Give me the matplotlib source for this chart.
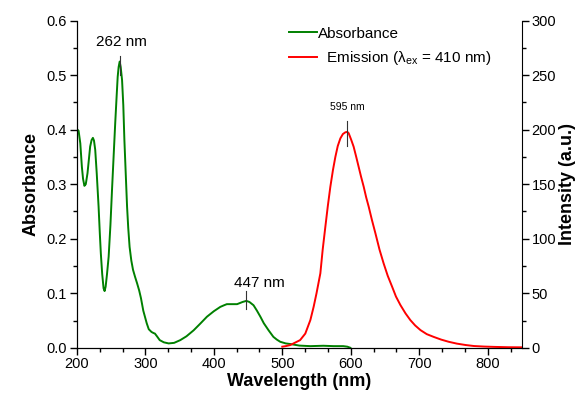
import numpy as np
import matplotlib.pyplot as plt
from matplotlib.ticker import MultipleLocator, AutoMinorLocator

plt.rcParams['font.family'] = ['Liberation Sans', 'DejaVu Sans']
plt.rcParams['mathtext.fontset'] = 'custom'
plt.rcParams['mathtext.rm'] = 'Liberation Sans'
plt.rcParams['mathtext.it'] = 'Liberation Sans'

# absorbance spectrum
abs_wl = [200, 202.5, 205, 207.3, 209, 211, 213, 215.5, 217.5, 219.4, 221.5, 223.4, 225, 226.8,
          229, 231.7, 233.5, 235, 237, 239, 240.5, 242, 244, 246.4, 249, 251.3, 254, 256,
          258, 259.6, 261, 262.5, 264, 266, 267.8, 269.4, 271.5, 273.3, 275, 277, 279.5, 282,
          285, 288, 291, 293.6, 297, 302, 305, 309, 312, 314, 317, 321, 327, 334,
          342, 351, 360, 370.5, 380, 390, 400, 409.5, 415, 419, 425, 430, 434, 438,
          442, 447.5, 452, 458, 463, 468, 473, 480, 487, 492, 497, 505, 512, 525,
          541, 560, 575, 589, 595, 599.4]
abs_val = [0.401, 0.398, 0.375, 0.332, 0.310, 0.297, 0.300, 0.320, 0.345, 0.369, 0.381, 0.385, 0.380, 0.363,
           0.320, 0.259, 0.210, 0.173, 0.135, 0.109, 0.104, 0.112, 0.135, 0.167, 0.225, 0.289, 0.360, 0.412,
           0.460, 0.497, 0.515, 0.525, 0.515, 0.491, 0.445, 0.381, 0.315, 0.259, 0.220, 0.185, 0.160, 0.143,
           0.130, 0.118, 0.105, 0.091, 0.068, 0.045, 0.034, 0.029, 0.027, 0.026, 0.021, 0.014, 0.010, 0.008,
           0.009, 0.014, 0.021, 0.032, 0.044, 0.057, 0.067, 0.075, 0.078, 0.080, 0.080, 0.080, 0.080, 0.082,
           0.084, 0.086, 0.084, 0.078, 0.068, 0.057, 0.045, 0.032, 0.020, 0.015, 0.011, 0.008, 0.0068, 0.004,
           0.003, 0.0037, 0.003, 0.003, 0.002, 0.0]

# emission spectrum, excitation 410 nm
em_wl = [500, 505, 511.7, 518, 526, 533.6, 541, 545.8, 550, 555.6, 559, 562.9, 566.5, 570.2,
         574, 577.5, 581, 584.8, 588.5, 592.1, 595, 597, 600.5, 604.2, 608, 611.5, 615, 618.9,
         622.5, 626.2, 631, 636, 642, 648, 654, 660.4, 666, 672.5, 680, 687, 694, 701.8,
         711, 721, 732, 743, 755, 768, 780, 795, 810, 830, 850]
em_val = [1.0, 1.5, 2.5, 4.5, 7.0, 13, 25.4, 37.6, 50, 68.3, 90, 111, 130, 147.7,
          163, 175, 185, 192, 196, 197.6, 198, 196.7, 191, 184.4, 175, 166, 157, 147.7,
          138, 129.4, 117, 105, 90, 77.4, 66, 56, 47, 39.2, 31.5, 25.4, 20.5, 16.2,
          12.5, 10, 7.5, 5.5, 3.8, 2.5, 1.6, 1.1, 0.8, 0.5, 0.4]

fig = plt.figure(figsize=(5.78, 3.97), dpi=100)
ax = fig.add_axes([0.133, 0.124, 0.770, 0.824])
ax2 = ax.twinx()

l1, = ax.plot(abs_wl, abs_val, color='#008000', lw=1.4, label='Absorbance')
l2, = ax2.plot(em_wl, em_val, color='#ff0000', lw=1.4, label='  Emission (\u03bb$_{\\rm ex}$ = 410 nm)')

ax.set_xlim(200, 850)
ax.set_ylim(0, 0.6)
ax2.set_ylim(0, 300)

ax.xaxis.set_major_locator(MultipleLocator(100))
ax.xaxis.set_minor_locator(AutoMinorLocator(3))
ax.yaxis.set_major_locator(MultipleLocator(0.1))
ax.yaxis.set_minor_locator(AutoMinorLocator(2))
ax2.yaxis.set_major_locator(MultipleLocator(50))
ax2.yaxis.set_minor_locator(AutoMinorLocator(2))
ax.yaxis.set_major_formatter(plt.FormatStrFormatter('%.1f'))

for a in (ax, ax2):
    a.spines['top'].set_visible(False)
    a.tick_params(which='major', direction='out', length=5, width=1, labelsize=10.5, pad=2)
    a.tick_params(which='minor', direction='out', length=3, width=1)
ax.spines['right'].set_visible(False)

ax.set_xlabel('Wavelength (nm)', fontsize=13, fontweight='bold', labelpad=1)
ax.set_ylabel('Absorbance', fontsize=13, fontweight='bold', labelpad=5)
ax2.set_ylabel('Intensity (a.u.)', fontsize=13, fontweight='bold', labelpad=2)

# peak markers
ax.plot([262.5, 262.5], [0.50, 0.535], color='#333333', lw=0.8)
ax.text(265, 0.548, '262 nm', ha='center', va='bottom', fontsize=11)
ax.plot([447.5, 447.5], [0.072, 0.104], color='#333333', lw=0.8)
ax.text(466, 0.106, '447 nm', ha='center', va='bottom', fontsize=11)
ax2.plot([595, 595], [185, 208], color='#333333', lw=0.8)
ax2.text(595, 216, '595 nm', ha='center', va='bottom', fontsize=7.5)

ax.legend(handles=[l1, l2], loc='upper left', bbox_to_anchor=(0.463, 1.0), frameon=False,
          fontsize=11, handlelength=1.8, handletextpad=0.1, labelspacing=0.55, borderaxespad=0)

fig.savefig('out.png', dpi=100)
